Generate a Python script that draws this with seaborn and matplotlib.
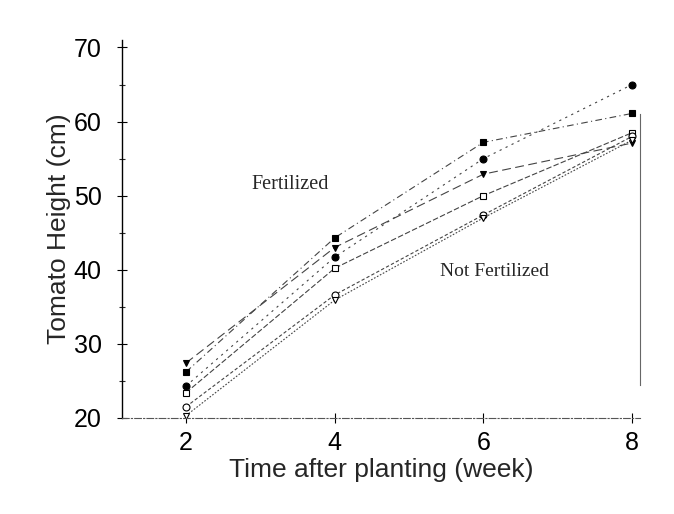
import pandas as pd
import seaborn as sns
import matplotlib.pyplot as plt

# Weeks after planting
weeks = [2, 4, 6, 8]

# Heights (cm)
fert_circle = [24.3, 41.7, 55.0, 65.0]
fert_square = [26.2, 44.3, 57.2, 61.1]
fert_triangle = [27.4, 43.0, 52.9, 57.1]
nofert_square = [23.4, 40.2, 50.0, 58.5]
nofert_circle = [21.5, 36.6, 47.4, 58.0]
nofert_triangle = [20.3, 35.9, 47.0, 57.5]

series_names = ["F circle", "F square", "F triangle",
                "NF square", "NF circle", "NF triangle"]
series_values = [fert_circle, fert_square, fert_triangle,
                 nofert_square, nofert_circle, nofert_triangle]

rows = []
for name, vals in zip(series_names, series_values):
    for w, h in zip(weeks, vals):
        rows.append({"series": name, "week": w, "height": h})
df = pd.DataFrame(rows)

sns.set_style("white")
plt.rcParams["font.family"] = ["Liberation Sans", "DejaVu Sans"]

fig = plt.figure(figsize=(6.74, 5.14), dpi=100)
ax = fig.add_axes([0.181, 0.187, 0.769, 0.735])

# marker, filled?, linestyle
styles = {
    "F circle": ("o", True, (0, (2, 4))),
    "F square": ("s", True, (0, (6, 3, 1, 3))),
    "F triangle": ("v", True, (0, (8, 4))),
    "NF square": ("s", False, (0, (5, 2))),
    "NF circle": ("o", False, (0, (3, 2))),
    "NF triangle": ("v", False, (0, (1.5, 1.5))),
}

for name in series_names:
    marker, filled, ls = styles[name]
    sub = df[df["series"] == name]
    sns.lineplot(data=sub, x="week", y="height", ax=ax, color="#444444",
                 linewidth=0.8, linestyle=ls, marker=marker, markersize=5,
                 markerfacecolor="black" if filled else "white",
                 markeredgecolor="black", markeredgewidth=0.8,
                 legend=False)

ax.set_xlim(1.14, 8.11)
ax.set_ylim(20, 71)
ax.set_xticks(weeks)
ax.set_yticks([20, 30, 40, 50, 60, 70])
ax.set_yticks([25, 35, 45, 55, 65], minor=True)
ax.tick_params(axis="both", which="major", labelsize=18, direction="inout",
               length=7, width=0.8, colors="black", left=True, bottom=True)
ax.tick_params(axis="y", which="major", pad=11)
ax.tick_params(axis="x", which="major", pad=6)
ax.tick_params(axis="y", which="minor", direction="inout", length=5,
               width=0.8, left=True)

ax.spines["top"].set_visible(False)
ax.spines["right"].set_color("#666666")
ax.spines["right"].set_linewidth(0.8)
ax.spines["right"].set_bounds(24.5, 61)
ax.spines["left"].set_color("black")
ax.spines["left"].set_linewidth(1.0)
ax.spines["bottom"].set_color("#555555")
ax.spines["bottom"].set_linewidth(0.8)
ax.spines["bottom"].set_linestyle((0, (6, 2, 1, 2)))

ax.set_xlabel("Time after planting (week)", fontsize=19, labelpad=2)
ax.set_ylabel("Tomato Height (cm)", fontsize=19, labelpad=2)

ax.text(3.4, 51.5, "Fertilized", fontsize=14.5, family="Liberation Serif",
        ha="center", va="center")
ax.text(6.15, 39.7, "Not Fertilized", fontsize=14, family="Liberation Serif",
        ha="center", va="center")

fig.savefig("out.png", dpi=100)
